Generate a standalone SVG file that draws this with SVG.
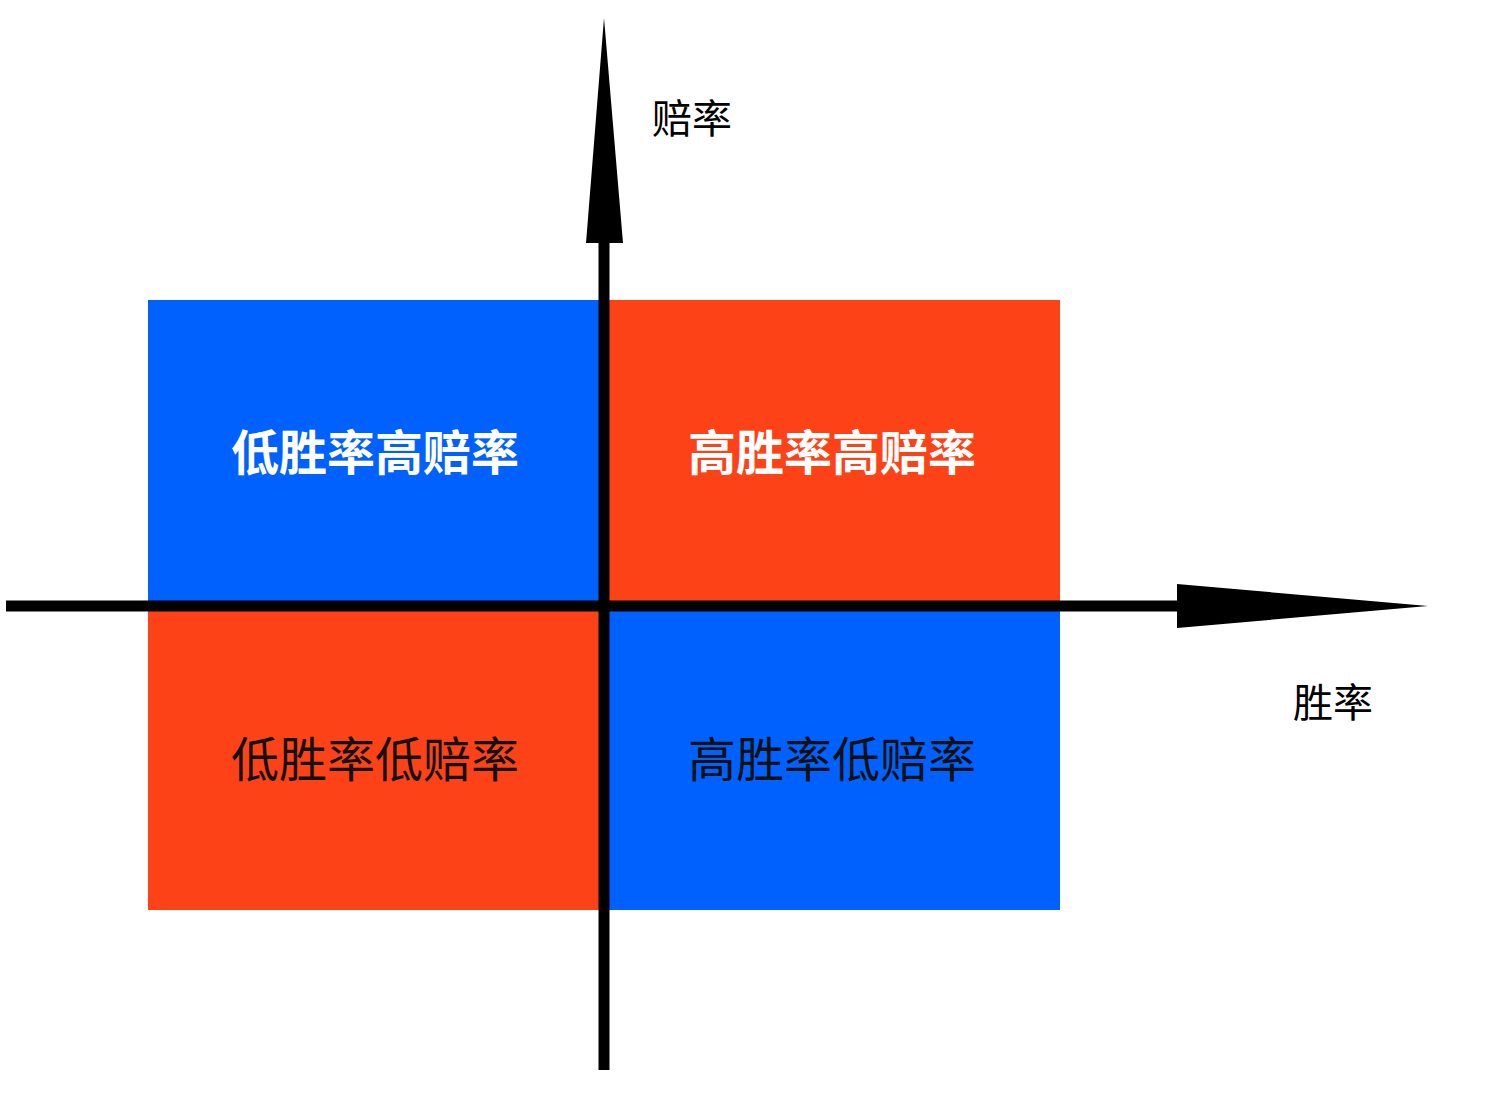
<svg xmlns="http://www.w3.org/2000/svg" width="1489" height="1102" viewBox="0 0 1489 1102">
<style>
.q{font-family:"Liberation Sans","Noto Sans CJK SC",sans-serif;font-size:48px;text-anchor:middle}
.w{fill:#fff;font-weight:bold}
.k{fill:#111}
.ax{font-family:"Liberation Sans","Noto Sans CJK SC",sans-serif;font-size:40px;fill:#000}
.blue{fill:#0061FE}
.red{fill:#FD4218}
</style>
<rect width="1489" height="1102" fill="#fff"/>
<g id="q1"><rect class="blue" x="148" y="300" width="456" height="306"/><text class="q w" x="375" y="470">低胜率高赔率</text></g>
<g id="q2"><rect class="red" x="604" y="300" width="456" height="306"/><text class="q w" x="832" y="470">高胜率高赔率</text></g>
<g id="q3"><rect class="red" x="148" y="606" width="456" height="304"/><text class="q k" x="375" y="777">低胜率低赔率</text></g>
<g id="q4"><rect class="blue" x="604" y="606" width="456" height="304"/><text class="q k" x="832" y="777">高胜率低赔率</text></g>
<g id="connectors">
<line x1="604" y1="1070" x2="604" y2="240" stroke="#000" stroke-width="11"/>
<polygon points="604,18 623,243 586,243" fill="#000"/>
<line x1="6" y1="606" x2="1180" y2="606" stroke="#000" stroke-width="11"/>
<polygon points="1428,606 1177,584 1177,628" fill="#000"/>
</g>
<text class="ax" x="652" y="133">赔率</text>
<text class="ax" x="1293" y="717">胜率</text>
</svg>
